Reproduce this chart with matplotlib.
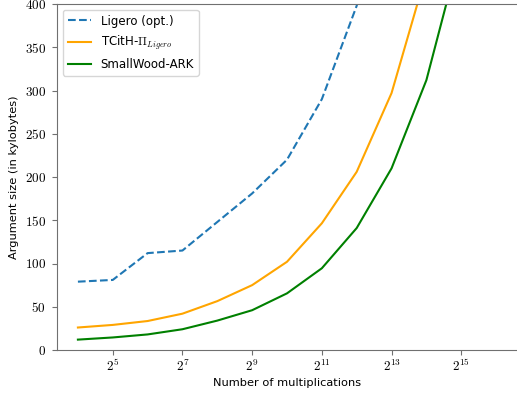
import numpy as np
import matplotlib
matplotlib.use("Agg")
import matplotlib.pyplot as plt
from matplotlib.ticker import FuncFormatter, NullLocator

plt.rcParams['mathtext.fontset'] = 'cm'
plt.rcParams['font.size'] = 8.2

# log2 of the number of multiplications
log_mults = [4, 5, 6, 7, 8, 9, 10, 11, 12, 13, 14, 15, 16]
ligero = [79, 81, 112, 115, 148, 181, 220, 290, 398, 560, 800, 1130, 1600]
tcith = [26, 29, 33.5, 42, 56.5, 75, 102, 146.5, 206, 297, 436, 640, 930]
smallwood = [12, 14.5, 18, 24, 34, 46, 65.5, 94.5, 141, 210, 312, 466, 690]

mults = [2 ** k for k in log_mults]

fig = plt.figure(figsize=(5.17, 3.93), dpi=100)
ax = fig.add_axes([57 / 517, 43 / 393, 1 - 57 / 517, 346 / 393])

ax.plot(mults, ligero, linestyle='--', color='tab:blue', label='Ligero (opt.)')
ax.plot(mults, tcith, color='orange', label=r'TCitH-$\Pi_{Ligero}$')
ax.plot(mults, smallwood, color='green', label='SmallWood-ARK')

ax.set_xscale('log', base=2)
ax.set_xticks([2 ** k for k in (5, 7, 9, 11, 13, 15)])
ax.xaxis.set_minor_locator(NullLocator())
ax.xaxis.set_major_formatter(FuncFormatter(lambda v, p: r'$2^{%d}$' % round(np.log2(v))))
ax.yaxis.set_major_formatter(FuncFormatter(lambda v, p: r'$%d$' % v))
ax.set_ylim(0, 400)

ax.set_xlabel('Number of multiplications', labelpad=2.5)
ax.set_ylabel('Argument size (in kylobytes)')

for s in ax.spines.values():
    s.set_color('#707070')
ax.spines['right'].set_visible(False)
ax.tick_params(colors='#707070', labelcolor='black', labelsize=9.5)
ax.tick_params(axis='x', pad=2.5)
ax.tick_params(axis='y', pad=4.5)

ax.legend(loc='upper left', fontsize=8.5)

fig.savefig('out.png', dpi=100)
